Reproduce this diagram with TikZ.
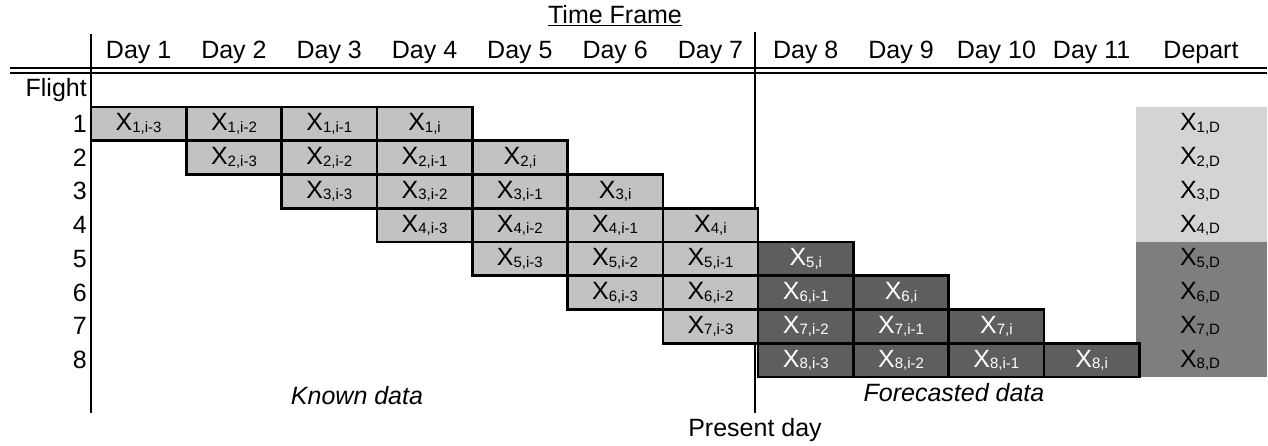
\documentclass[tikz,border=0pt]{standalone}
\usepackage{fontspec}
\setmainfont{Liberation Sans}
\definecolor{known}{HTML}{C2C2C2}
\definecolor{fcast}{HTML}{5E5E5E}
\definecolor{deplight}{HTML}{D4D4D4}
\definecolor{depdark}{HTML}{7E7E7E}
\newcommand{\cellx}[2]{X\raisebox{-1.5pt}{\fontsize{15}{15}\selectfont #1,#2}}
\tikzset{
  lbl/.style={font=\fontsize{25}{27}\selectfont, inner sep=0pt},
  kcell/.style={draw=black, line width=2.6pt, fill=known, minimum width=95.3pt, minimum height=33.75pt, inner sep=0pt, outer sep=0pt, anchor=north west, font=\fontsize{25}{25}\selectfont},
  fcell/.style={kcell, fill=fcast, text=white},
  depbox/.style={minimum width=131pt, minimum height=33.75pt, inner sep=0pt, outer sep=0pt, anchor=north west},
  rule/.style={line width=2.4pt}
}
\begin{document}
\begin{tikzpicture}[x=1pt,y=-1pt]
\useasboundingbox (0,0) rectangle (1268,446);
% header
\node[lbl] (tf) at (615,16) {\underline{Time Frame}};
\foreach \d in {1,...,11}{
  \node[lbl] (h\d) at ({91+95.3*(\d-0.5)},52) {Day \d};
}
\node[lbl] (hdep) at (1201,52) {Depart};
\draw[line width=2.6pt] (10,68) -- (1267,68);
\draw[line width=1.4pt] (10,73) -- (1267,73);
% axes
\draw[rule] (91,34) -- (91,413);
\coordinate (pdtop) at (755,32);
\coordinate (pdbot) at (755,413);
\draw[rule] (pdtop) -- (pdbot);
% row labels
\node[lbl, anchor=east] (flight) at (87,90) {Flight};
\foreach \r in {1,...,8}{
  \node[lbl, anchor=east] (r\r) at (87,{107+33.75*(\r-0.5)}) {\r};
}
% depart column
\foreach \r in {1,...,4}{
  \node[depbox, fill=deplight] (d\r) at (1136,{107+33.75*(\r-1)}) {};
}
\foreach \r in {5,...,8}{
  \node[depbox, fill=depdark] (d\r) at (1136,{107+33.75*(\r-1)}) {};
}
\foreach \r in {1,...,8}{
  \node[font=\fontsize{25}{25}\selectfont, inner sep=0pt] (dt\r) at (1200,{107+33.75*(\r-0.5)}) {\cellx{\r}{D}};
}
% cells
\foreach \r in {1,...,8}{
  \foreach \k in {0,...,3}{
    \pgfmathtruncatemacro\d{\r+\k}
    \ifnum\d>7
      \node[fcell] (c\r-\d) at ({91+95.3*(\d-1)},{107+33.75*(\r-1)}) {\cellx{\r}{\ifcase\k i-3\or i-2\or i-1\or i\fi}};
    \else
      \node[kcell] (c\r-\d) at ({91+95.3*(\d-1)},{107+33.75*(\r-1)}) {\cellx{\r}{\ifcase\k i-3\or i-2\or i-1\or i\fi}};
    \fi
  }
}
% bottom labels
\node[lbl, font=\fontsize{25}{27}\selectfont\itshape] (known) at (357,396) {Known data};
\node[lbl, font=\fontsize{25}{27}\selectfont\itshape] (fore) at (954,393) {Forecasted data};
\node[lbl, anchor=north] (present) at ([yshift=-5pt]pdbot) {Present day};
\end{tikzpicture}
\end{document}
